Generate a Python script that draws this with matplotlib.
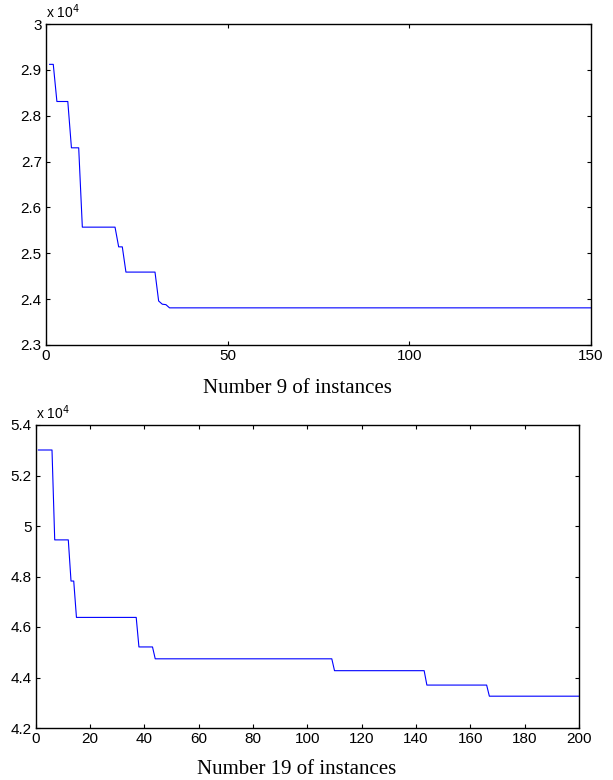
import matplotlib.pyplot as plt
from matplotlib.ticker import FuncFormatter

# Best-so-far objective value, polyline vertices
TOP_X = [1, 2, 3, 6, 7, 9, 10, 19, 20, 21, 22, 30, 31, 32, 33, 34, 150]
TOP_Y = [29120, 29120, 28310, 28310, 27300, 27300, 25570, 25570, 25140,
         25140, 24590, 24590, 23960, 23890, 23880, 23810, 23810]
TOP_XTICKS = [0, 50, 100, 150]
TOP_YTICKS = [23000, 24000, 25000, 26000, 27000, 28000, 29000, 30000]
TOP_LABEL = "Number 9 of instances"

BOT_X = [1, 6, 7, 12, 13, 14, 15, 37, 38, 43, 44, 109, 110, 143, 144,
         166, 167, 200]
BOT_Y = [53010, 53010, 49450, 49450, 47820, 47820, 46380, 46380, 45210,
         45210, 44740, 44740, 44270, 44270, 43700, 43700, 43260, 43260]
BOT_XTICKS = [0, 20, 40, 60, 80, 100, 120, 140, 160, 180, 200]
BOT_YTICKS = [42000, 44000, 46000, 48000, 50000, 52000, 54000]
BOT_LABEL = "Number 19 of instances"

W, H = 613, 780
TOP_RECT = [46 / W, 1 - 345 / H, (591 - 46) / W, (345 - 24) / H]
BOT_RECT = [35.7 / W, 1 - 728 / H, (579 - 35.7) / W, (728 - 425) / H]
# caption anchors (center x, baseline y) in pixels from top-left
TOP_CAP = (297, 393)
BOT_CAP = (297, 774)

plt.rcParams["font.family"] = ["Liberation Sans", "DejaVu Sans"]


def fmt(v, _):
    return f"{v / 1e4:g}"


def panel(fig, rect, xs, ys, xticks, yticks, label, cap):
    ax = fig.add_axes(rect)
    ax.plot(xs, ys, color="blue", lw=0.8)
    ax.set_xlim(xticks[0], xticks[-1])
    ax.set_ylim(yticks[0], yticks[-1])
    ax.set_xticks(xticks)
    ax.set_yticks(yticks)
    ax.yaxis.set_major_formatter(FuncFormatter(fmt))
    ax.tick_params(direction="in", top=True, right=True, length=3,
                   width=0.8, labelsize=11, pad=3)
    for s in ax.spines.values():
        s.set_linewidth(1.0)
    ax.text(0, 1.01, r"x 10$^4$", transform=ax.transAxes, fontsize=10,
            ha="left", va="bottom")
    fig.text(cap[0] / W, 1 - cap[1] / H, label, family=["Liberation Serif"],
             fontsize=15, ha="center", va="baseline")
    return ax


fig = plt.figure(figsize=(W / 100, H / 100), dpi=100)
panel(fig, TOP_RECT, TOP_X, TOP_Y, TOP_XTICKS, TOP_YTICKS, TOP_LABEL, TOP_CAP)
panel(fig, BOT_RECT, BOT_X, BOT_Y, BOT_XTICKS, BOT_YTICKS, BOT_LABEL, BOT_CAP)
fig.savefig("out.png", dpi=100)
